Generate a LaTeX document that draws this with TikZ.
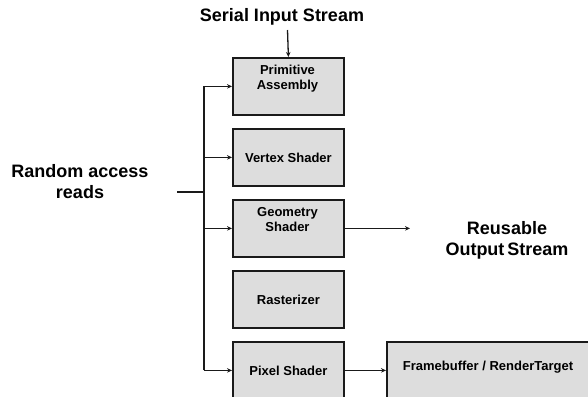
\documentclass[tikz,border=0pt]{standalone}
\usepackage{fontspec}
\setmainfont{Liberation Sans}
\usetikzlibrary{arrows.meta}
\definecolor{boxgray}{HTML}{DDDDDD}
\definecolor{edgecol}{HTML}{1A1A1A}
\begin{document}
\begin{tikzpicture}[x=1bp,y=-1bp,
  stagebox/.style={draw=edgecol, line width=1.8bp, fill=boxgray, minimum width=111bp, minimum height=57bp, anchor=north west, inner sep=0pt, font=\fontsize{13bp}{15bp}\selectfont\bfseries},
  boxtext/.style={font=\fontsize{13bp}{15bp}\selectfont\bfseries, align=center, inner sep=0pt},
  bigtext/.style={font=\fontsize{18bp}{21bp}\selectfont\bfseries, align=center, inner sep=0pt},
  conn/.style={line width=1.3bp, draw=edgecol, -{Stealth[length=5bp,width=4.5bp]}},
  plainline/.style={line width=1.3bp, draw=edgecol},
  thickline/.style={line width=2.6bp, draw=edgecol},
]
\useasboundingbox (0,0) rectangle (588,396);
\clip (0,0) rectangle (588,396);

% stage boxes
\node[stagebox] (pa) at (232,57) {};
\node[boxtext] (pat) at (287.5,78.5) {Primitive\\Assembly};
\node[stagebox] (vs) at (232,128) {Vertex Shader};
\node[stagebox] (gs) at (232,199) {};
\node[boxtext] (gst) at (287.5,220) {Geometry\\Shader};
\node[stagebox] (rz) at (232,270) {Rasterizer};
\node[stagebox] (ps) at (232,341) {Pixel Shader};
\node[stagebox, minimum width=230bp] (fb) at (386,341) {};
\node[boxtext] (fbt) at (488,367) {Framebuffer / RenderTarget};

% labels
\node[bigtext] (sis) at (282,17) {Serial Input Stream};
\node[bigtext] (ra) at (80,182) {Random access\\reads};
\node[bigtext] (ros) at (507,240) {Reusable\\Output\,Stream};

% coordinates
\coordinate (busx) at (204,0);
\coordinate (sisarrow) at (287.5,30);
\coordinate (raend) at (177,192);
\coordinate (rosend) at (410,0);

% connectors
\draw[conn] (sisarrow) -- (pa.north);
\draw[conn] (ps.west -| busx) |- (pa.west);
\draw[conn] (vs.west -| busx) -- (vs.west);
\draw[conn] (gs.west -| busx) -- (gs.west);
\draw[conn] (ps.west -| busx) -- (ps.west);
\draw[thickline] (raend) -- (raend -| busx);
\draw[conn] (gs.east) -- (gs.east -| rosend);
\draw[conn] (ps.east) -- (fb.west);
\end{tikzpicture}
\end{document}
